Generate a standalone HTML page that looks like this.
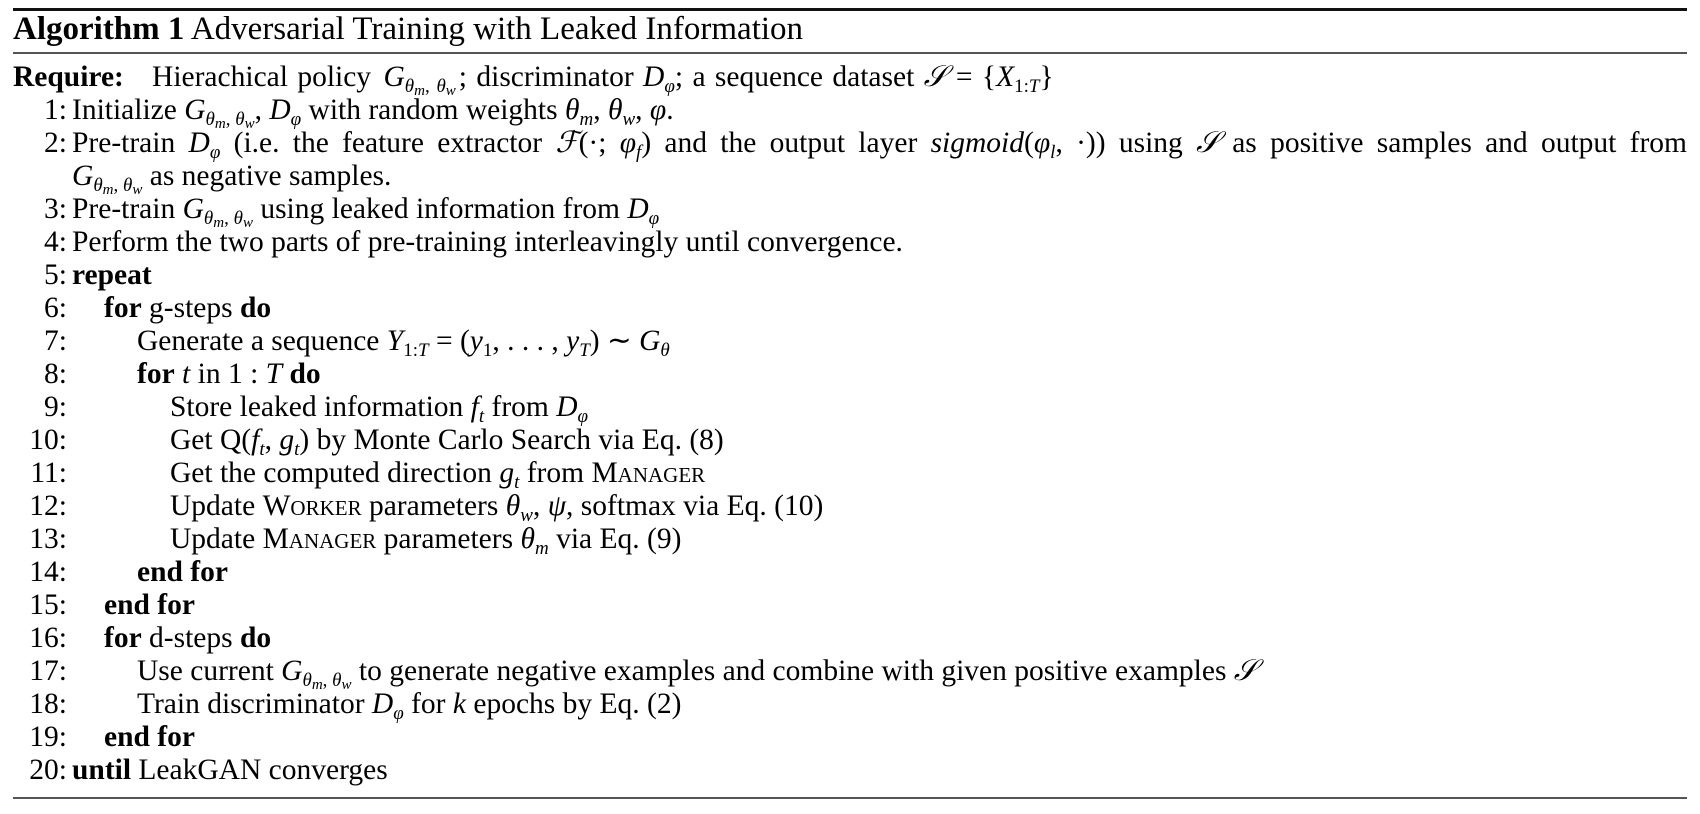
<!DOCTYPE html>
<html><head><meta charset="utf-8"><style>
body{margin:0;width:1700px;height:814px;background:#fff;position:relative;overflow:hidden;font-family:"Liberation Serif",serif;color:#000;}
.rule{position:absolute;left:13px;width:1674px;background:#111;}
.t{position:absolute;left:13px;font-size:33px;white-space:nowrap;}
#body{position:absolute;left:0;top:61px;width:1700px;}
.row{height:33px;line-height:33px;font-size:29.5px;white-space:nowrap;position:relative;}
.num{position:absolute;left:0;width:67px;text-align:right;}
.txt{position:absolute;left:72px;}
i{font-style:italic;}
sub{font-size:19px;vertical-align:-6px;line-height:0;}
sub sub{font-size:15px;vertical-align:-3px;}
.sc{font-variant:small-caps;}
.just{text-align:justify;text-align-last:justify;width:1615px;display:block;}
.m{margin:0 3px;}
</style></head><body>
<div class="rule" style="top:8px;height:3px;"></div>
<div class="t" style="top:11px;"><b>Algorithm 1</b> Adversarial Training with Leaked Information</div>
<div class="rule" style="top:52px;height:2px;background:#555;"></div>
<div id="body">
<div class="row"><span class="txt" style="left:13px;word-spacing:2px"><b>Require:</b>&nbsp;&nbsp; Hierachical policy <span class="m"><i>G</i><sub><i>θ</i><sub><i>m</i></sub>, <i>θ</i><sub><i>w</i></sub></sub></span>; discriminator <i>D</i><sub><i>φ</i></sub>; a sequence dataset <i>𝒮</i> = {<i>X</i><sub>1:<i>T</i></sub>}</span></div>
<div class="row"><span class="num">1:</span><span class="txt">Initialize <i>G</i><sub><i>θ</i><sub><i>m</i></sub>, <i>θ</i><sub><i>w</i></sub></sub>, <i>D</i><sub><i>φ</i></sub> with random weights <i>θ</i><sub><i>m</i></sub>, <i>θ</i><sub><i>w</i></sub>, <i>φ</i>.</span></div>
<div class="row"><span class="num">2:</span><span class="txt just">Pre-train <i>D</i><sub><i>φ</i></sub> (i.e. the feature extractor <i>ℱ</i>(·; <i>φ</i><sub><i>f</i></sub>) and the output layer <i>sigmoid</i>(<i>φ</i><sub><i>l</i></sub>, ·)) using <i>𝒮</i> as positive samples and output from</span></div>
<div class="row"><span class="txt"><i>G</i><sub><i>θ</i><sub><i>m</i></sub>, <i>θ</i><sub><i>w</i></sub></sub> as negative samples.</span></div>
<div class="row"><span class="num">3:</span><span class="txt">Pre-train <i>G</i><sub><i>θ</i><sub><i>m</i></sub>, <i>θ</i><sub><i>w</i></sub></sub> using leaked information from <i>D</i><sub><i>φ</i></sub></span></div>
<div class="row"><span class="num">4:</span><span class="txt">Perform the two parts of pre-training interleavingly until convergence.</span></div>
<div class="row"><span class="num">5:</span><span class="txt"><b>repeat</b></span></div>
<div class="row"><span class="num">6:</span><span class="txt" style="left:104px"><b>for</b> g-steps <b>do</b></span></div>
<div class="row"><span class="num">7:</span><span class="txt" style="left:137px">Generate a sequence <i>Y</i><sub>1:<i>T</i></sub> = (<i>y</i><sub>1</sub>, . . . , <i>y</i><sub><i>T</i></sub>) ∼ <i>G</i><sub><i>θ</i></sub></span></div>
<div class="row"><span class="num">8:</span><span class="txt" style="left:137px"><b>for</b> <i>t</i> in 1 : <i>T</i> <b>do</b></span></div>
<div class="row"><span class="num">9:</span><span class="txt" style="left:170px">Store leaked information <i>f</i><sub><i>t</i></sub> from <i>D</i><sub><i>φ</i></sub></span></div>
<div class="row"><span class="num">10:</span><span class="txt" style="left:170px">Get Q(<i>f</i><sub><i>t</i></sub>, <i>g</i><sub><i>t</i></sub>) by Monte Carlo Search via Eq. (8)</span></div>
<div class="row"><span class="num">11:</span><span class="txt" style="left:170px">Get the computed direction <i>g</i><sub><i>t</i></sub> from <span class="sc">Manager</span></span></div>
<div class="row"><span class="num">12:</span><span class="txt" style="left:170px">Update <span class="sc">Worker</span> parameters <i>θ</i><sub><i>w</i></sub>, <i>ψ</i>, softmax via Eq. (10)</span></div>
<div class="row"><span class="num">13:</span><span class="txt" style="left:170px">Update <span class="sc">Manager</span> parameters <i>θ</i><sub><i>m</i></sub> via Eq. (9)</span></div>
<div class="row"><span class="num">14:</span><span class="txt" style="left:137px"><b>end for</b></span></div>
<div class="row"><span class="num">15:</span><span class="txt" style="left:104px"><b>end for</b></span></div>
<div class="row"><span class="num">16:</span><span class="txt" style="left:104px"><b>for</b> d-steps <b>do</b></span></div>
<div class="row"><span class="num">17:</span><span class="txt" style="left:137px">Use current <i>G</i><sub><i>θ</i><sub><i>m</i></sub>, <i>θ</i><sub><i>w</i></sub></sub> to generate negative examples and combine with given positive examples <i>𝒮</i></span></div>
<div class="row"><span class="num">18:</span><span class="txt" style="left:137px">Train discriminator <i>D</i><sub><i>φ</i></sub> for <i>k</i> epochs by Eq. (2)</span></div>
<div class="row"><span class="num">19:</span><span class="txt" style="left:104px"><b>end for</b></span></div>
<div class="row"><span class="num">20:</span><span class="txt"><b>until</b> LeakGAN converges</span></div>
</div>
<div class="rule" style="top:797px;height:2px;background:#555;"></div>
</body></html>
